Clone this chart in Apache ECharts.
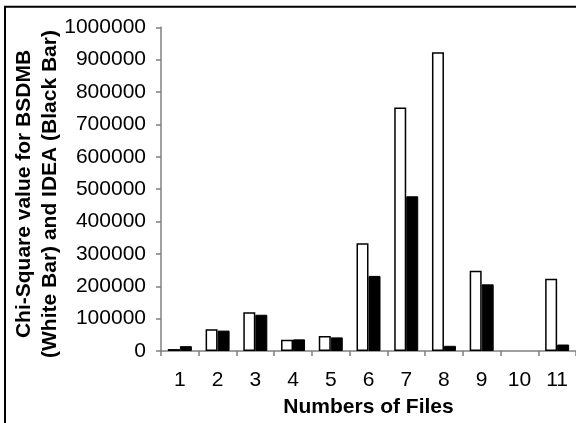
<!DOCTYPE html>
<html>
<head>
<meta charset="utf-8">
<script src="https://cdn.jsdelivr.net/npm/echarts@6/dist/echarts.min.js"></script>
<style>html,body{margin:0;padding:0;background:#fff}#c{width:576px;height:423px}</style>
</head>
<body>
<div id="c"></div>
<script>
const categories = ['1','2','3','4','5','6','7','8','9','10','11'];
const bsdmbWhite = [6000, 67000, 120000, 35000, 46000, 333000, 752000, 923000, 248000, 0, 223000];
const ideaBlack = [15000, 63000, 112000, 36000, 42000, 232000, 478000, 16000, 206000, 0, 20000];
const yTitleLines = ['Chi-Square value for BSDMB', '(White Bar) and IDEA (Black Bar)'];
const xTitle = 'Numbers of Files';

const chart = echarts.init(document.getElementById('c'), null, {renderer: 'canvas'});
const font = 'Liberation Sans, Arial, sans-serif';
const toItems = (arr, bw) => arr.map(v => v === 0 ? {value: v, itemStyle: {borderWidth: 0}} : {value: v});
chart.setOption({
  animation: false,
  backgroundColor: '#fff',
  grid: {left: 161, right: 0, top: 27.3, bottom: 64, containLabel: false},
  xAxis: {
    type: 'category',
    data: categories,
    axisLine: {lineStyle: {color: '#808080', width: 1.5}},
    axisTick: {show: true, length: 5, lineStyle: {color: '#808080', width: 1.5}, alignWithLabel: false},
    axisLabel: {color: '#000', fontSize: 21, fontFamily: font, margin: 19},
    name: xTitle,
    nameLocation: 'middle',
    nameGap: 46,
    nameTextStyle: {color: '#000', fontSize: 21, fontWeight: 'bold', fontFamily: font}
  },
  yAxis: {
    type: 'value',
    min: 0, max: 1000000, interval: 100000,
    axisLine: {show: true, lineStyle: {color: '#808080', width: 1.5}},
    axisTick: {show: true, length: 5, lineStyle: {color: '#808080', width: 1.5}},
    axisLabel: {color: '#000', fontSize: 21, fontFamily: font, margin: 15, formatter: v => String(v)},
    splitLine: {show: false}
  },
  graphic: [
    {type: 'rect', shape: {x: 5, y: 6.7, width: 800, height: 800}, style: {fill: 'none', stroke: '#000', lineWidth: 2}, silent: true},
    {type: 'text', x: 37, y: 194, rotation: Math.PI / 2,
     style: {text: yTitleLines.join('\n'), font: 'bold 21px ' + font, fill: '#000', textAlign: 'center', textVerticalAlign: 'middle', lineHeight: 26}}
  ],
  series: [
    {type: 'bar', data: toItems(bsdmbWhite), barWidth: 12, barGap: '0%',
     itemStyle: {color: '#fff', borderColor: '#000', borderWidth: 1.5}},
    {type: 'bar', data: toItems(ideaBlack), barWidth: 12,
     itemStyle: {color: '#000', borderColor: '#000', borderWidth: 1}}
  ]
});
</script>
</body>
</html>
